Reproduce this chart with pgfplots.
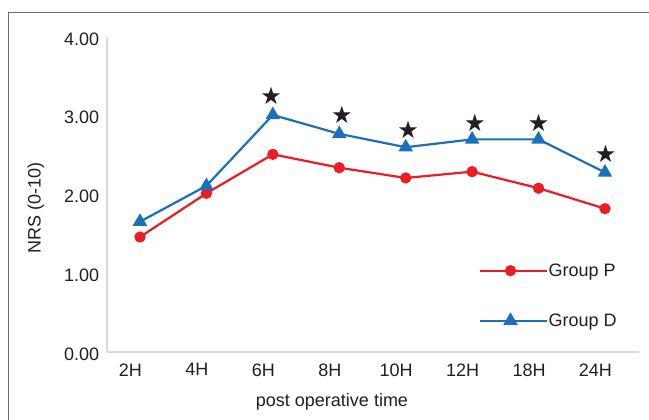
\documentclass[border=0pt]{standalone}
\usepackage{fontspec}
\setmainfont{Liberation Sans}
\newfontfamily\starfont{DejaVu Sans}
\usepackage{pgfplots}
\pgfplotsset{compat=1.18}
\definecolor{gP}{RGB}{237,28,36}
\definecolor{gD}{RGB}{26,113,185}
\definecolor{txt}{RGB}{35,31,32}
\definecolor{axc}{RGB}{217,217,217}
\definecolor{frm}{RGB}{110,110,110}
\begin{document}
\begin{tikzpicture}
\useasboundingbox (0pt,0pt) rectangle (649pt,420pt);
\fill[white] (0pt,0pt) rectangle (649pt,420pt);
\draw[frm, line width=1.5pt] (8.7pt,0pt) -- (8.7pt,407.7pt) -- (649pt,407.7pt);
\begin{axis}[
  at={(107.3pt,68pt)}, anchor=south west,
  scale only axis, width=531.7pt, height=315pt,
  xmin=-0.492, xmax=7.512, ymin=0, ymax=4,
  axis x line=bottom, axis y line=left,
  axis line style={axc, line width=1.7pt, -},
  xtick={0,...,7}, xticklabels={2H,4H,6H,8H,10H,12H,18H,24H},
  ytick={0,1,2,3,4}, yticklabels={0.00,1.00,2.00,3.00,4.00},
  major tick length=0pt, tick style={draw=none},
  font=\fontsize{18}{21}\selectfont,
  every tick label/.append style={text=txt, font=\fontsize{18}{21}\selectfont},
  xticklabel style={anchor=north, inner sep=0pt, yshift=-11.3pt, xshift=-9.5pt},
  yticklabel style={anchor=east, inner sep=0pt, xshift=-8pt, yshift=-2pt},
  xlabel={post operative time}, ylabel={NRS (0-10)},
  xlabel style={at={(axis description cs:0.4226,-0.158)}, anchor=center, text=txt, inner sep=0pt},
  ylabel style={at={(axis description cs:-0.1341,0.457)}, anchor=center, text=txt, inner sep=0pt},
  legend style={at={(axis description cs:0.6985,0.1787)}, anchor=west, draw=none, fill=none,
    inner sep=0pt, row sep=36pt, nodes={inner sep=0pt, text=txt, font=\fontsize{18}{21}\selectfont}},
  legend cell align=left,
  legend image code/.code={\path (0pt,0pt) -- (67.5pt,0pt);\draw[mark repeat=2,mark phase=2,#1] plot coordinates {(0pt,0pt) (30.5pt,0pt) (61pt,0pt)};},
  clip=false,
]
\addplot[gP, line width=2.2pt, mark=*, mark size=4.5pt, mark options={solid}]
  coordinates {(0,1.46) (1,2.015) (2,2.51) (3,2.34) (4,2.21) (5,2.29) (6,2.08) (7,1.82)};
\addlegendentry{Group P}
\addplot[gD, line width=2.2pt, mark=triangle*, mark size=6.2pt, mark options={solid}]
  coordinates {(0,1.655) (1,2.11) (2,3.01) (3,2.77) (4,2.60) (5,2.70) (6,2.70) (7,2.28)};
\addlegendentry{Group D}
\addplot[txt, only marks, mark=text, text mark={\fontsize{24}{24}\selectfont\starfont\textcolor{txt}{★}}, forget plot]
  coordinates {(1.976,3.25) (3.04,3.01) (4.035,2.82) (5.04,2.91) (6.0,2.91) (7.01,2.51)};
\end{axis}
\end{tikzpicture}
\end{document}
